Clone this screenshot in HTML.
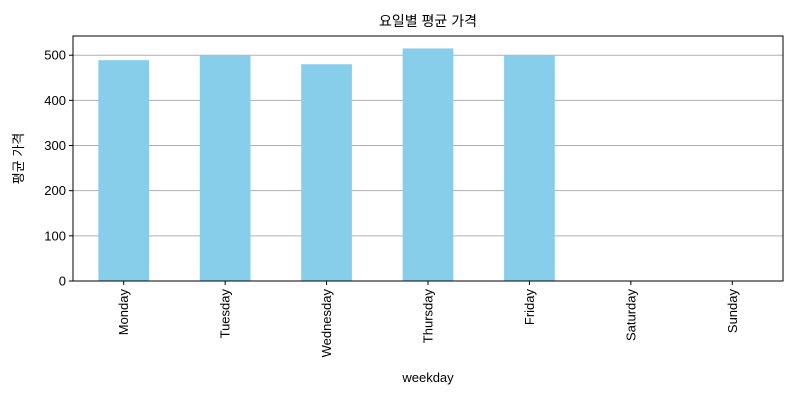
<!DOCTYPE html>
<html><head><meta charset="utf-8"><style>
body{margin:0;background:#fff;font-family:"Liberation Sans","Noto Sans CJK KR",sans-serif;}
</style></head><body>
<svg id="chart" width="800" height="400" xmlns="http://www.w3.org/2000/svg"></svg>
<script>
const categories=["Monday","Tuesday","Wednesday","Thursday","Friday","Saturday","Sunday"];
const values=[489,500,480,515,500,0,0];
const yTicks=[0,100,200,300,400,500];
const svg=document.getElementById('chart');
const NS='http://www.w3.org/2000/svg';
const L=73,R=783,T=36,B=281,yMax=542.5;
const y=v=>B-(v/yMax)*(B-T);
const step=(R-L)/categories.length;
const x=i=>L+step*(i+0.5);
function mk(tag,attrs,txt){const e=document.createElementNS(NS,tag);for(const k in attrs)e.setAttribute(k,attrs[k]);if(txt!==undefined)e.textContent=txt;svg.appendChild(e);return e;}
yTicks.forEach(t=>{
 const g=mk('line',{x1:L,x2:R,y1:y(t),y2:y(t),stroke:'#b0b0b0','stroke-width':1});
 
 
 const tk=mk('line',{x1:L-4,x2:L,y1:y(t),y2:y(t),stroke:'#000'});
 
 
 const lb=mk('text',{x:L-7,y:y(t)+4.5,'text-anchor':'end','font-size':13},String(t));
 
 
});
categories.forEach((c,i)=>{
 const w=step*0.5;
 const b=mk('rect',{x:x(i)-w/2,y:y(values[i]),width:w,height:B-y(values[i]),fill:'#87ceeb'});
 
 
 const tk=mk('line',{x1:x(i),x2:x(i),y1:B,y2:B+4,stroke:'#000'});
 
 
 const lb=mk('text',{x:0,y:0,'text-anchor':'end','font-size':13,transform:`translate(${x(i)+4.5},${B+8}) rotate(-90)`},c);
 
 
});
const fr=mk('rect',{x:L,y:T,width:R-L,height:B-T,fill:'none',stroke:'#000','stroke-width':1});


const tt=mk('text',{x:(L+R)/2,y:26,'text-anchor':'middle','font-size':14},'요일별 평균 가격');


const xt=mk('text',{x:(L+R)/2,y:382,'text-anchor':'middle','font-size':13},'weekday');


const yt=mk('text',{x:0,y:0,'text-anchor':'middle','font-size':13,transform:`translate(23,${(T+B)/2}) rotate(-90)`},'평균 가격');


</script>
</body></html>
